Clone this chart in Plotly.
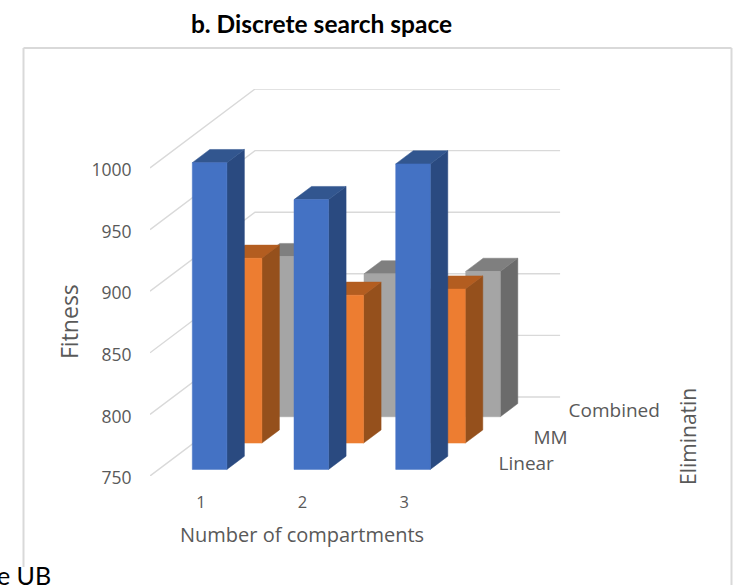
import plotly.graph_objects as go

# Chart data
compartments = ["1", "2", "3"]
series_names = ["Linear", "MM", "Combined"]
linear_fitness = [999, 969, 998]
mm_fitness = [900, 870, 875]
combined_fitness = [880, 866, 868]
fitness_ticks = [750, 800, 850, 900, 950, 1000]

# Face colours of each series: front, side, top
linear_faces = ["#4472C4", "#2A4A80", "#32568F"]
mm_faces = ["#ED7D31", "#95501C", "#B35D20"]
combined_faces = ["#A5A5A5", "#6B6B6B", "#7F7F7F"]

GRID = "#D9D9D9"
TEXT = "#595959"
FONT = "Open Sans"

# Plot area in the page, in pixels
WIDTH, HEIGHT = 736, 585
LEFT, RIGHT, TOP, BOTTOM = 150, 725, 89, 476
CAT_PX = 101.7          # width of one category
FIT_PX = 61.6 / 50      # pixels per fitness unit
ROW_DX_PX, ROW_DY_PX = 35.0, 26.33  # oblique shift of one depth row
BAR_WIDTH = 0.34        # of a category
BAR_DEPTH = 0.5         # of a depth row

x_span = (RIGHT - LEFT) / CAT_PX
y_span = (BOTTOM - TOP) / FIT_PX
row_dx = ROW_DX_PX / CAT_PX
row_dy = ROW_DY_PX / FIT_PX


def project(cat, row, value):
    """Oblique projection of (category, depth row, fitness) onto the 2D axes."""
    return cat + row * row_dx, value + row * row_dy


def paper_x(px):
    return (px - LEFT) / (RIGHT - LEFT)


def paper_y(py):
    return (BOTTOM - py) / (BOTTOM - TOP)


def polygon(points, color):
    xs, ys = zip(*[project(*p) for p in points])
    return go.Scatter(
        x=list(xs) + [xs[0]], y=list(ys) + [ys[0]], mode="lines",
        fill="toself", fillcolor=color, line=dict(color=color, width=0.5),
        hoverinfo="skip", showlegend=False,
    )


def grid_line(points):
    xs, ys = zip(*[project(*p) for p in points])
    return go.Scatter(
        x=xs, y=ys, mode="lines", line=dict(color=GRID, width=1.4),
        hoverinfo="skip", showlegend=False,
    )


def floating_text(text, px, py, size, family=FONT, color=TEXT, angle=0, xanchor="center"):
    return dict(
        text=text, xref="paper", yref="paper", x=paper_x(px), y=paper_y(py),
        xanchor=xanchor, yanchor="middle", textangle=angle, showarrow=False,
        font=dict(family=family, size=size, color=color),
    )


fig = go.Figure()

# Side wall and back wall gridlines
n_cat, n_row = len(compartments), len(series_names)
base = fitness_ticks[0]
for tick in fitness_ticks:
    fig.add_trace(grid_line([(0, 0, tick), (0, n_row, tick), (n_cat, n_row, tick)]))

# Bars, painted from the back row to the front row
rows = [
    (0, linear_fitness, linear_faces),
    (1, mm_fitness, mm_faces),
    (2, combined_fitness, combined_faces),
]
for row, values, (front, side, top) in reversed(rows):
    r0 = row + (1 - BAR_DEPTH) / 2
    r1 = r0 + BAR_DEPTH
    for i, value in enumerate(values):
        c0 = i + (1 - BAR_WIDTH) / 2
        c1 = c0 + BAR_WIDTH
        fig.add_trace(polygon([(c1, r0, base), (c1, r1, base), (c1, r1, value), (c1, r0, value)], side))
        fig.add_trace(polygon([(c0, r0, value), (c1, r0, value), (c1, r1, value), (c0, r1, value)], top))
        fig.add_trace(polygon([(c0, r0, base), (c1, r0, base), (c1, r0, value), (c0, r0, value)], front))

# Depth axis labels beside each row, sitting slightly under the row's floor level
label_drop = 2.4 / FIT_PX
label_xy = [project(n_cat + 0.255, r + 0.5, base - label_drop) for r in range(n_row)]
fig.add_trace(go.Scatter(
    x=[p[0] for p in label_xy], y=[p[1] for p in label_xy], text=series_names,
    mode="text", textposition="middle right", cliponaxis=False,
    textfont=dict(family=FONT, size=19, color=TEXT),
    hoverinfo="skip", showlegend=False,
))

fig.update_layout(
    width=WIDTH, height=HEIGHT,
    margin=dict(l=LEFT, r=WIDTH - RIGHT, t=TOP, b=HEIGHT - BOTTOM, autoexpand=False),
    paper_bgcolor="white", plot_bgcolor="rgba(0,0,0,0)",
    showlegend=False,
    title=dict(
        text="<b>b. Discrete search space</b>", x=321.5 / WIDTH, xanchor="center",
        y=1 - 24 / HEIGHT, yanchor="middle",
        font=dict(family="Lato", size=24.5, color="black"),
    ),
    xaxis=dict(
        range=[0, x_span], showgrid=False, zeroline=False, showline=False,
        tickmode="array", tickvals=[i + 0.5 for i in range(n_cat)], ticktext=compartments,
        ticks="outside", ticklen=11, tickcolor="rgba(0,0,0,0)",
        tickfont=dict(family=FONT, size=16.5, color=TEXT),
    ),
    yaxis=dict(
        range=[base, base + y_span], showgrid=False, zeroline=False, showline=False,
        tickmode="array", tickvals=fitness_ticks, ticks="outside", ticklen=14,
        ticklabelshift=2, tickcolor="rgba(0,0,0,0)",
        tickfont=dict(family=FONT, size=17.5, color=TEXT),
    ),
    annotations=[
        floating_text("Fitness", 69, 322, 23, angle=-90),
        floating_text("Number of compartments", 302, 534, 20),
        floating_text("Eliminatin", 688, 437, 21, angle=-90),
        floating_text("e UB", -5, 575, 25, family="Lato", color="black", xanchor="left"),
    ],
    # Chart frame: open along the bottom edge
    shapes=[
        dict(type="line", xref="paper", yref="paper",
             x0=paper_x(x0), x1=paper_x(x1), y0=paper_y(y0), y1=paper_y(y1),
             line=dict(color=GRID, width=2), layer="below")
        for x0, y0, x1, y1 in [(23.5, 48, 731.5, 48), (23.5, 48, 23.5, 567), (731.5, 48, 731.5, 585)]
    ],
)

fig.write_html("out.html")
